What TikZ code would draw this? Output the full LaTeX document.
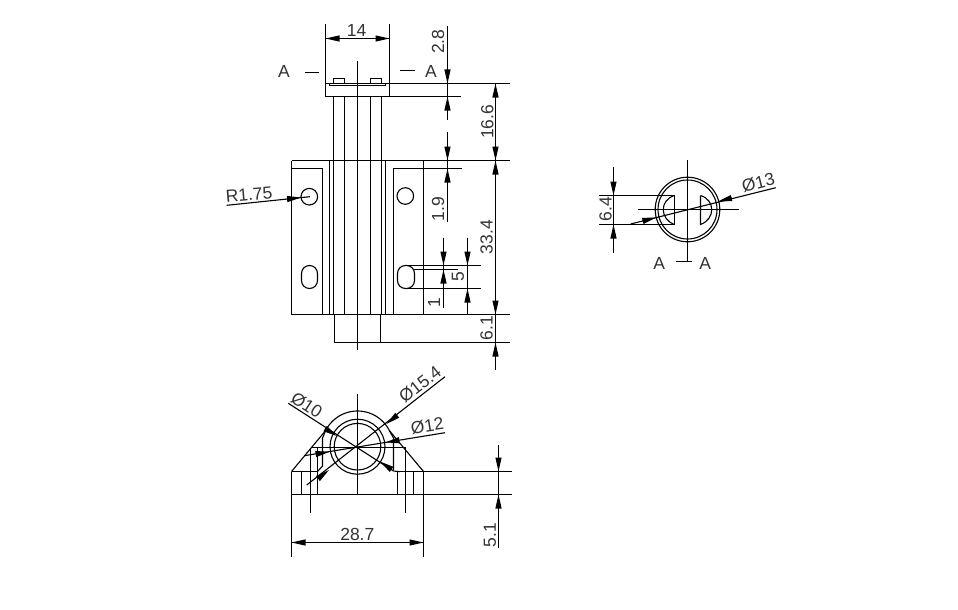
\documentclass[tikz,border=0pt]{standalone}
\usepackage{fontspec}
\setmainfont{Liberation Sans}
\usetikzlibrary{arrows.meta}
\tikzset{
  cad/.style={line width=1.1pt,black,line cap=butt},
  dimtip/.style={-{Triangle[length=14pt,width=6pt]},line width=1.1pt,black},
  lbl/.style={inner sep=0pt,font=\fontsize{17.5}{19}\selectfont,text=black!80}
}
\newcommand{\tip}[2]{\draw[dimtip] (#1) -- (#2);}
\begin{document}
\begin{tikzpicture}[x=1pt,y=-1pt,cad]
\useasboundingbox (0,0) rectangle (958,610);
\fill[white] (0,0) rectangle (958,610);
% ---- top dimension 14
\draw (325.5,24) -- (325.5,96.5) (389.5,24) -- (389.5,96.5);
\draw (325.5,38.5) -- (389.5,38.5);
\tip{340,38.5}{325.5,38.5}\tip{375,38.5}{389.5,38.5}
\node[lbl] (d14) at (356.7,30) {14};
% ---- section marks
\node[lbl] (a1) at (284,71) {A};
\node[lbl] (a2) at (431,71) {A};
\draw (305,72.5) -- (319,72.5) (399.5,70.5) -- (415,70.5);
% ---- head
\draw (325.5,83.5) -- (510,83.5);
\draw (325.5,96.5) -- (460.5,96.5);
\draw (329.5,83.5) rectangle (385.5,85.5);
\draw (333.5,83.5) -- (333.5,78.5) -- (344.5,78.5) -- (344.5,83.5);
\draw (370.5,83.5) -- (370.5,78.5) -- (381.5,78.5) -- (381.5,83.5);
% ---- stem and body
\foreach \xx in {333.5,344.5,370.5,381.5} \draw (\xx,96.5) -- (\xx,314.5);
\draw (357.5,61.5) -- (357.5,350);
\draw (291.5,160.5) -- (510,160.5);
\draw (291.5,314.5) -- (510,314.5);
\draw (291.5,160.5) -- (291.5,314.5) (423.5,160.5) -- (423.5,314.5);
\draw (329.5,160.5) -- (329.5,314.5) (385.5,160.5) -- (385.5,314.5);
\draw (291.5,168.5) -- (322.5,168.5) -- (322.5,314.5);
\draw (393.5,314.5) -- (393.5,168.5) -- (461.5,168.5);
\draw (334.5,314.5) -- (334.5,342.5) -- (510,342.5);
\draw (380.5,314.5) -- (380.5,342.5);
% ---- holes
\draw (309.3,196.7) circle (8.3);
\draw (405.3,196) circle (8.3);
\draw[rounded corners=8pt] (301.5,265.5) rectangle (317.5,288.5);
\draw[rounded corners=8pt] (397.5,265.5) rectangle (414.5,288.5);
% ---- R1.75
\draw (226.7,205.3) -- (300,197.7) -- (310,196.7);
\tip{287,199}{301,197.6}
\node[lbl,rotate=5] (r175) at (249,195) {R1.75};
% ---- slot dimensions
\draw (405,265.5) -- (480.5,265.5) (405,288.5) -- (480.5,288.5) (414,269.5) -- (457.5,269.5);
\draw (443.5,237.5) -- (443.5,307.5) (467.5,237.5) -- (467.5,315);
\tip{443.5,251.7}{443.5,265.5}\tip{443.5,283.5}{443.5,269.5}
\tip{467.5,251.7}{467.5,265.5}\tip{467.5,302.5}{467.5,288.5}
\node[lbl,rotate=90] (d5) at (458,276.7) {5};
\node[lbl,rotate=90] (d1) at (434,302.7) {1};
% ---- vertical dimension x=447
\draw (447.5,26.5) -- (447.5,120) (447.5,132) -- (447.5,221.5);
\tip{447.5,69.5}{447.5,83.5}\tip{447.5,110.5}{447.5,96.5}
\tip{447.5,146.5}{447.5,160.5}\tip{447.5,182.5}{447.5,168.5}
\node[lbl,rotate=90] (d28) at (438,41.7) {2.8};
\node[lbl,rotate=90] (d19) at (438,209) {1.9};
% ---- vertical dimension x=495.5
\draw (495.5,83.5) -- (495.5,370);
\tip{495.5,97.5}{495.5,83.5}\tip{495.5,146.5}{495.5,160.5}
\tip{495.5,174.5}{495.5,160.5}\tip{495.5,300.5}{495.5,314.5}
\tip{495.5,356.5}{495.5,342.5}
\node[lbl,rotate=90] (d166) at (487.3,121.7) {16.6};
\node[lbl,rotate=90] (d334) at (486.7,237) {33.4};
\node[lbl,rotate=90] (d61) at (486.7,328) {6.1};
% ---- side view
\draw (687.5,209.5) circle (32.3);
\draw (687.5,209.5) circle (29.5);
\draw (687.5,159.5) -- (687.5,261.5) (637.5,209.5) -- (738.5,209.5) (676,261.5) -- (691.5,261.5);
\draw (599,195.5) -- (674.5,195.5) -- (674.5,224.5) -- (599,224.5);
\draw (674.5,195.5) .. controls (659.5,200) and (659.5,219) .. (674.5,224.5);
\draw (700.5,195.5) -- (700.5,224.5) .. controls (715.5,219) and (715.5,200) .. (700.5,195.5);
\draw (613.5,166.5) -- (613.5,252.5);
\tip{613.5,181.5}{613.5,195.5}\tip{613.5,238.5}{613.5,224.5}
\node[lbl,rotate=90] (d64) at (605.7,209.3) {6.4};
\draw (630.7,224) -- (775.7,187.7);
\tip{642.5,221}{656.3,217.5}\tip{731.7,198}{718,201.5}
\node[lbl,rotate=14] (d13) at (758.3,182.5) {Ø13};
\node[lbl] (a3) at (659.3,263) {A};
\node[lbl] (a4) at (705.3,263) {A};
% ---- bottom view
\draw (357.5,446.7) circle (23.3);
\draw (357.5,446.7) circle (27.5);
\draw plot[domain=27:153,samples=50] ({357.5+35.7*cos(\x)},{446.7-35.7*sin(\x)});
\draw (291.5,471.5) -- (325.7,430.5);
\draw (423.5,471.5) -- (389.3,430.5);
\draw (291.5,471.5) -- (317.5,471.5) (397.5,471.5) -- (511.5,471.5);
\draw (291.5,494.5) -- (511.5,494.5);
\draw (291.5,471.5) -- (291.5,556.5) (423.5,471.5) -- (423.5,556.5);
\draw (301.5,471.5) -- (301.5,494.5) (317.5,447.5) -- (317.5,494.5);
\draw (397.5,471.5) -- (397.5,494.5) (413.5,471.5) -- (413.5,494.5);
\draw (310.5,447.5) -- (310.5,513) (405.5,447.5) -- (405.5,513);
\draw (310.5,447.5) -- (405.5,447.5);
\draw (325.7,430.5) -- (322.5,438) -- (322.5,466) -- (317.5,471.5);
\draw (389.3,430.5) -- (393.5,438) -- (393.5,470);
\draw (357.5,393.5) -- (357.5,494.5);
% dimension 28.7
\draw (291.5,542.5) -- (423.5,542.5);
\tip{305.5,542.5}{291.5,542.5}\tip{409.5,542.5}{423.5,542.5}
\node[lbl] (d287) at (357.3,534) {28.7};
% dimension 5.1
\draw (498.5,445) -- (498.5,547.5);
\tip{498.5,457.5}{498.5,471.5}\tip{498.5,508.5}{498.5,494.5}
\node[lbl,rotate=90] (d51) at (490,535) {5.1};
% leaders
\draw (306.7,485) -- (445,376.7);
\tip{318.3,478.3}{329,470}\tip{397,415.5}{386.3,424}
\node[lbl,rotate=38] (d154) at (420,384.5) {Ø15.4};
\draw (304.3,455.7) -- (445,432.7);
\tip{316,454}{329.5,451.8}\tip{399.3,440.2}{385.5,442.4}
\node[lbl,rotate=9] (d12) at (427.3,426) {Ø12};
\draw (288.3,403.3) -- (393.5,471) -- (400,471.7);
\tip{325,428.5}{337,436}\tip{391.7,469.5}{380,461.5}
\node[lbl,rotate=-33] (d10) at (306.7,405) {Ø10};
\end{tikzpicture}
\end{document}
